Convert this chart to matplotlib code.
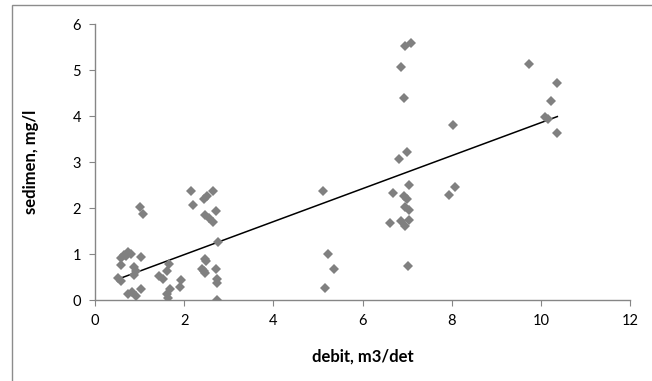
import matplotlib
matplotlib.use("Agg")
import matplotlib.pyplot as plt
import numpy as np
from matplotlib.patches import Rectangle

# debit (m3/det) vs sedimen (mg/l)
debit = [0.52, 0.58, 0.58, 0.58, 0.64, 0.70, 0.75, 0.80, 0.87, 0.88, 0.92, 1.03,
         0.75, 0.83, 0.93, 1.03, 1.01, 1.08,
         1.43, 1.52, 1.62, 1.66, 1.68, 1.62, 1.64, 1.94, 1.91,
         2.15, 2.19, 2.45, 2.52, 2.64, 2.47, 2.55, 2.64, 2.72, 2.76, 2.46, 2.48,
         2.40, 2.46, 2.71, 2.73, 2.74, 2.73, 2.45,
         5.11, 5.23, 5.36, 5.17,
         6.96, 7.08, 6.87, 6.92, 6.99, 6.81, 7.04, 6.68, 6.92, 6.99, 6.96, 7.05,
         6.62, 6.86, 6.96, 7.05, 7.02,
         7.95, 8.07, 8.02,
         9.74, 10.36, 10.22, 10.10, 10.16, 10.37]
sedimen = [0.47, 0.42, 0.76, 0.92, 0.98, 0.95, 1.05, 1.00, 0.54, 0.72, 0.62, 0.93,
           0.14, 0.18, 0.08, 0.25, 2.02, 1.88,
           0.52, 0.46, 0.62, 0.78, 0.25, 0.13, 0.04, 0.43, 0.29,
           2.38, 2.07, 2.20, 2.26, 2.38, 1.84, 1.78, 1.70, 1.93, 1.26, 0.90, 0.84,
           0.67, 0.58, 0.67, 0.46, 0.36, 0.00, 0.62,
           2.36, 1.00, 0.68, 0.26,
           5.52, 5.58, 5.07, 4.39, 3.22, 3.07, 2.49, 2.32, 2.26, 2.19, 2.03, 1.96,
           1.68, 1.71, 1.61, 1.74, 0.74,
           2.29, 2.46, 3.80,
           5.14, 4.72, 4.33, 3.98, 3.93, 3.64]

x = np.array(debit)
y = np.array(sedimen)

plt.rcParams['font.family'] = ['Lato', 'DejaVu Sans']

fig = plt.figure(figsize=(6.52, 3.81), dpi=100)
fig.patches.append(Rectangle((12/652, -0.1), 1.2, 1 - 5/381 + 0.1, transform=fig.transFigure,
                             fill=False, edgecolor='#8c8c8c', linewidth=1.0))
ax = fig.add_axes([95/652, 1 - 300/381, 535/652, 276/381])

ax.plot(x, y, linestyle='none', marker='D', markersize=5.2, color='#808080',
        markeredgewidth=0, zorder=3)

# linear trendline
k, b = np.polyfit(x, y, 1)
xs = np.array([x.min(), x.max()])
ax.plot(xs, k*xs + b, color='black', linewidth=1.1, zorder=2)

ax.set_xlim(0, 12)
ax.set_ylim(0, 6)
ax.set_xticks(range(0, 13, 2))
ax.set_yticks(range(0, 7))
for s in ['top', 'right']:
    ax.spines[s].set_visible(False)
for s in ['left', 'bottom']:
    ax.spines[s].set_color('#868686')
    ax.spines[s].set_linewidth(1.0)
ax.tick_params(direction='out', length=4, color='#868686', labelsize=10.5,
               labelcolor='black', pad=6)

ax.set_xlabel('debit, m3/det', fontsize=12, fontweight='bold')
ax.set_ylabel('sedimen, mg/l', fontsize=12, fontweight='bold')
ax.xaxis.set_label_coords(0.5, -0.175)
ax.yaxis.set_label_coords(-0.105, 0.5)

fig.savefig('out.png', dpi=100)
